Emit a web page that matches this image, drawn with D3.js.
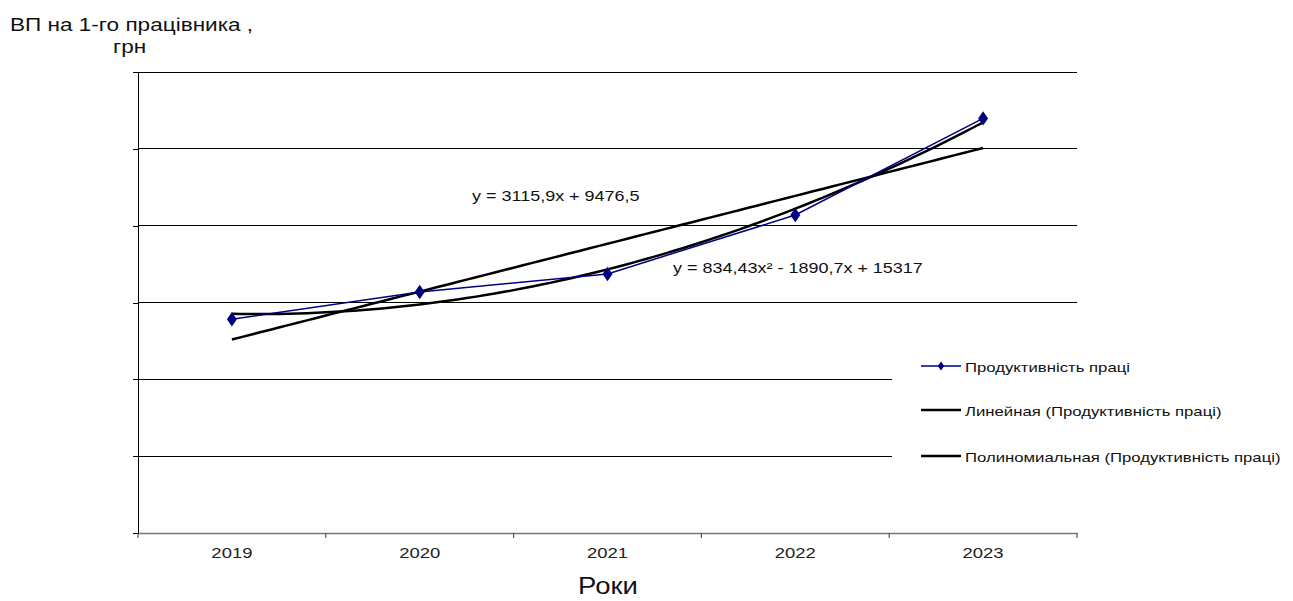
<!DOCTYPE html>
<html><head><meta charset="utf-8">
<script src="https://cdn.jsdelivr.net/npm/d3@7/dist/d3.min.js"></script>
<style>body{margin:0;background:#fff}svg{display:block;font-family:"Liberation Sans",Arial,sans-serif}</style>
</head><body>
<svg id="c" width="1293" height="601"></svg>
<script>
const years = ["2019","2020","2021","2022","2023"];
const productivity = [13906, 15682, 16860, 20692, 26981];
const linearCoef = [3115.9, 9476.5];           // y = a*x + b
const polyCoef = [834.43, -1890.7, 15317];     // y = a*x^2 + b*x + c
const yTicks = [0, 5000, 10000, 15000, 20000, 25000, 30000];
const seriesNames = ["Продуктивність праці","Линейная (Продуктивність праці)","Полиномиальная (Продуктивність праці)"];
const linearLabel = "y = 3115,9x + 9476,5";
const polyLabel = "y = 834,43x\u00B2 - 1890,7x + 15317";

const svg = d3.select("#c");
const L = 138, R = 1077, T = 72, B = 533;
const x = d3.scaleBand().domain(years).range([L, R]);
const y = d3.scaleLinear().domain([0, 30000]).range([B, T]);
const xc = i => x(years[i]) + x.bandwidth()/2;

function stext(g, tx, ty, size, sx, str, anchor) {
  return g.append("text").attr("transform", `translate(${tx},${ty}) scale(${sx},1)`)
    .attr("font-size", size).attr("fill", "#111").attr("text-anchor", anchor || "start").text(str);
}

// gridlines
svg.append("g").selectAll("line").data(yTicks.slice(1)).join("line")
  .attr("x1", L).attr("x2", R).attr("y1", d => y(d)).attr("y2", d => y(d))
  .attr("stroke", "#000").attr("stroke-width", 1).attr("shape-rendering","crispEdges");

// y axis
const ya = svg.append("g").attr("transform", `translate(${L},0)`)
  .call(d3.axisLeft(y).tickValues(yTicks).tickSize(5).tickFormat(""));
ya.select(".domain").attr("stroke","#000").attr("shape-rendering","crispEdges");
ya.selectAll(".tick line").attr("stroke","#000").attr("shape-rendering","crispEdges");

// x axis
const xa = svg.append("g").attr("transform", `translate(0,${B})`)
  .call(d3.axisBottom(x).tickSize(0).tickFormat(""));
xa.select(".domain").attr("stroke","#777").attr("stroke-width",1.5);
years.forEach((d, i) => stext(svg, xc(i), 558, 15.4, 1.2, d, "middle").attr("fill","#222"));
const bounds = years.map(d => x(d)).concat([R]);
svg.append("g").selectAll("line").data(bounds).join("line")
  .attr("x1", d => d).attr("x2", d => d).attr("y1", B).attr("y2", B+5)
  .attr("stroke","#555").attr("stroke-width",1.2);

// trend lines
const xs = d3.range(1, 5.0001, 0.05);
const px = d3.scaleLinear().domain([1,5]).range([xc(0), xc(4)]);
const line = d3.line().x(d => px(d[0])).y(d => y(d[1]));
svg.append("path").datum(xs.map(t => [t, linearCoef[0]*t + linearCoef[1]]))
  .attr("d", line).attr("fill","none").attr("stroke","#000").attr("stroke-width",2.5);
svg.append("path").datum(xs.map(t => [t, polyCoef[0]*t*t + polyCoef[1]*t + polyCoef[2]]))
  .attr("d", line).attr("fill","none").attr("stroke","#000").attr("stroke-width",2.5);

// data series
svg.append("path").datum(productivity)
  .attr("d", d3.line().x((d,i) => xc(i)).y(d => y(d)))
  .attr("fill","none").attr("stroke","#000080").attr("stroke-width",1.5);
svg.append("g").selectAll("path").data(productivity).join("path")
  .attr("d", d3.symbol(d3.symbolDiamond, 60))
  .attr("transform", (d,i) => `translate(${xc(i)},${y(d)}) scale(1.2,1)`).attr("fill","#000080");

// equation labels
stext(svg, 472, 201, 15, 1.2, linearLabel);
stext(svg, 673, 273, 15, 1.2, polyLabel);

// legend
const lg = svg.append("g");
lg.append("rect").attr("x", 892).attr("y", 335).attr("width", 400).attr("height", 145).attr("fill","#fff");
const ly = [366, 410, 456];
seriesNames.forEach((n, i) => {
  lg.append("line").attr("x1", 921).attr("x2", 961).attr("y1", ly[i]).attr("y2", ly[i])
    .attr("stroke", i === 0 ? "#000080" : "#000").attr("stroke-width", i === 0 ? 1.5 : 2.5);
  if (i === 0) lg.append("path").attr("d", d3.symbol(d3.symbolDiamond, 24)).attr("transform", `translate(941,${ly[i]}) scale(1.2,1)`).attr("fill","#000080");
  stext(lg, 965, ly[i] + 6, 13.6, 1.23, n);
});

// titles
stext(svg, 10, 31, 18.5, 1.22, "ВП на 1-го працівника ,");
stext(svg, 113, 53, 18.5, 1.22, "грн");
stext(svg, 608, 594, 23.5, 1.17, "Роки", "middle");
</script>
</body></html>
